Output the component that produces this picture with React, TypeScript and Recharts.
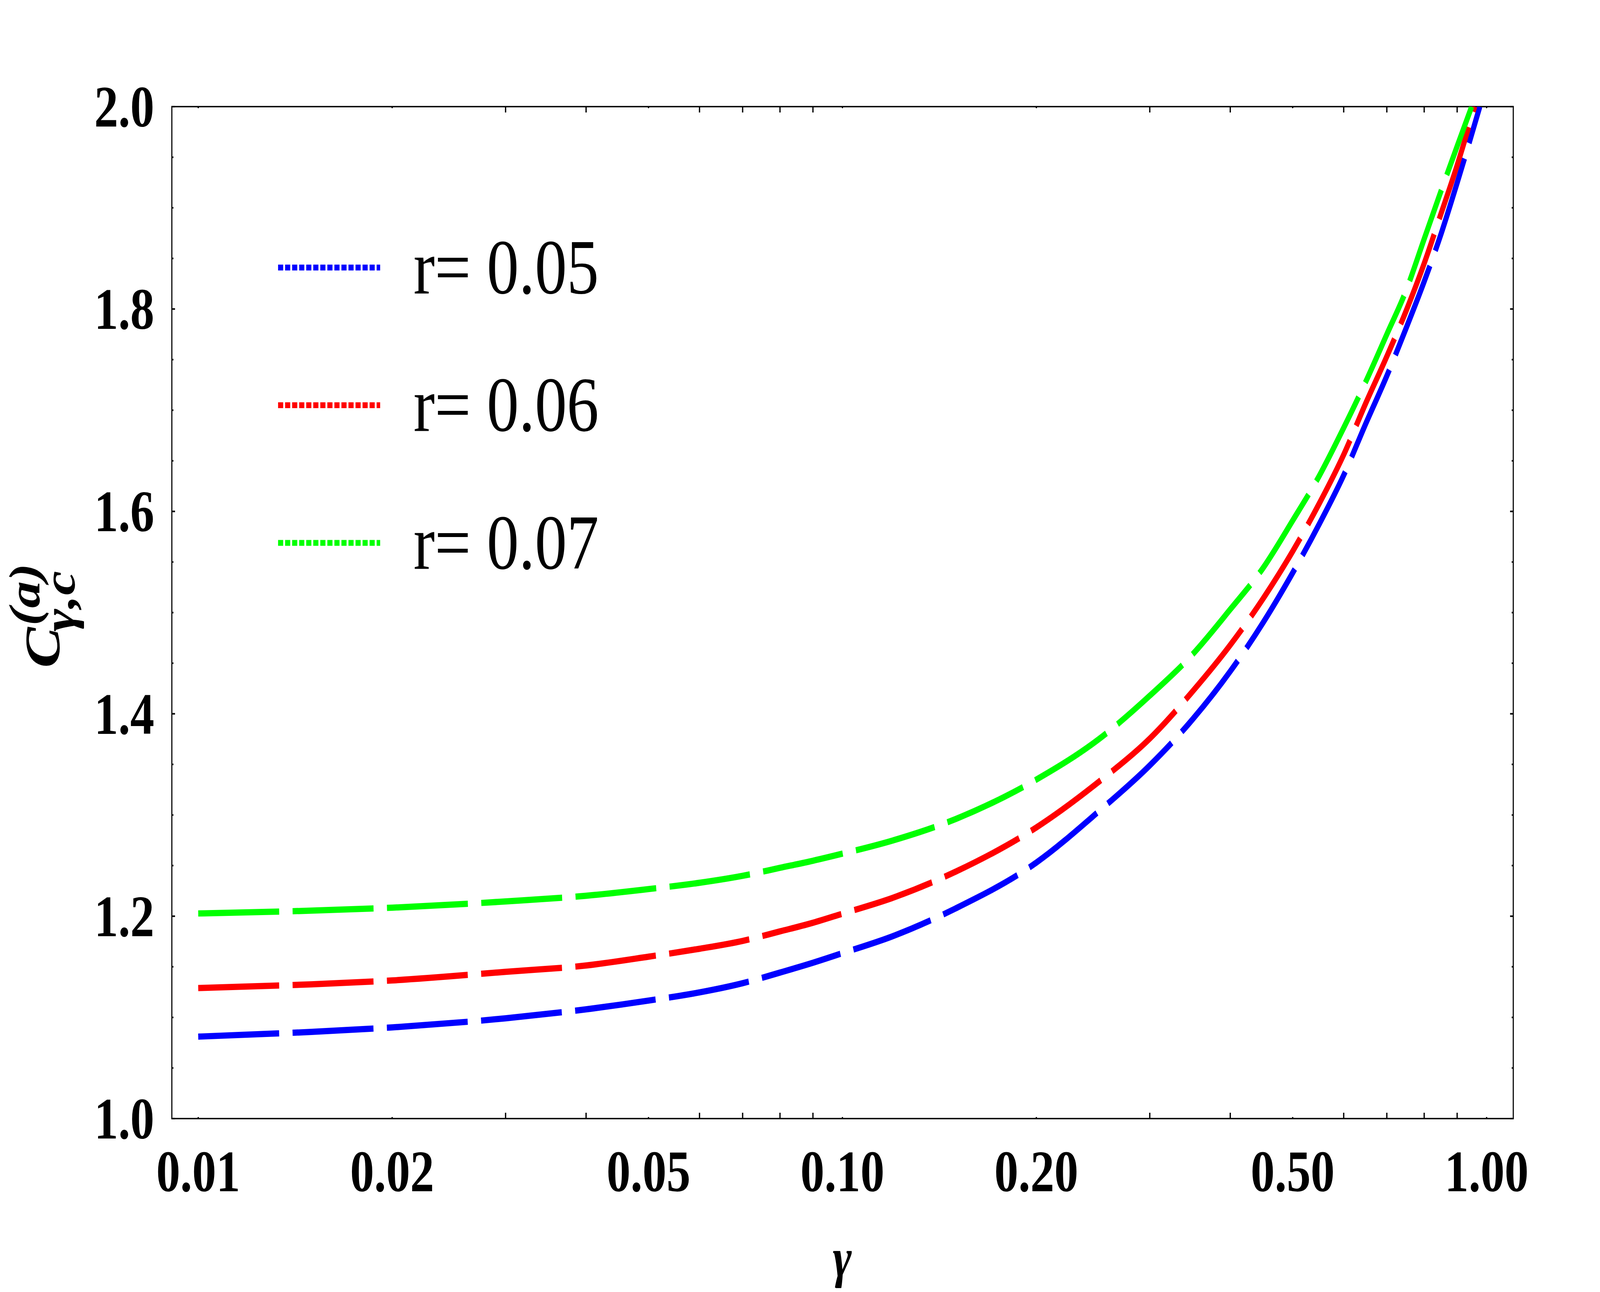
import React from "react";
import { LineChart, Line, XAxis, YAxis, ReferenceArea, Legend } from "recharts";

// values (gamma on a log axis)
const gammaGrid = [
  0.01, 0.015, 0.02, 0.03, 0.04, 0.05, 0.06, 0.07, 0.08, 0.09, 0.1, 0.12, 0.15,
  0.2, 0.25, 0.3, 0.35, 0.4, 0.45, 0.5, 0.55, 0.6, 0.65, 0.7, 0.75, 0.8, 0.85, 0.9,
];

const blueValues = [
  1.081, 1.0857, 1.0901, 1.0991, 1.108, 1.1166, 1.1247, 1.1338, 1.1443, 1.154,
  1.1635, 1.1805, 1.2078, 1.253, 1.3036, 1.349, 1.3949, 1.442, 1.4903, 1.5393,
  1.5877, 1.6358, 1.6875, 1.7339, 1.7811, 1.8272, 1.8745, 1.9247,
];
const redValues = [
  1.129, 1.1327, 1.1365, 1.145, 1.1513, 1.16, 1.1678, 1.1756, 1.185, 1.1935,
  1.2025, 1.2184, 1.2441, 1.2877, 1.3328, 1.3755, 1.4225, 1.468, 1.514, 1.5606,
  1.608, 1.6561, 1.7077, 1.7532, 1.7982, 1.8451, 1.8946, 1.942,
];
const greenValues = [
  1.2027, 1.2055, 1.2084, 1.2146, 1.2202, 1.2268, 1.233, 1.2399, 1.2478, 1.2548,
  1.2618, 1.275, 1.2961, 1.335, 1.3749, 1.4179, 1.4591, 1.5032, 1.5443, 1.591,
  1.6353, 1.6826, 1.7289, 1.775, 1.8184, 1.8692, 1.917, 1.9608,
];
// where each curve leaves the top of the frame (C = 2.0)
const topGamma = [0.976, 0.958, 0.948];

const seriesNames = ["r= 0.05", "r= 0.06", "r= 0.07"];
const seriesColors = ["#0000ff", "#ff0000", "#00ff00"];

const xTicks = [
  0.01, 0.02, 0.03, 0.04, 0.05, 0.06, 0.07, 0.08, 0.09,
  0.1, 0.2, 0.3, 0.4, 0.5, 0.6, 0.7, 0.8, 0.9, 1,
];
const xLabeled = [0.01, 0.02, 0.05, 0.1, 0.2, 0.5, 1];
const yTicks = [
  1, 1.05, 1.1, 1.15, 1.2, 1.25, 1.3, 1.35, 1.4, 1.45, 1.5,
  1.55, 1.6, 1.65, 1.7, 1.75, 1.8, 1.85, 1.9, 1.95, 2,
];
const yLabeled = [1, 1.2, 1.4, 1.6, 1.8, 2];

const W = 5000;
const H = 3308;
const PLOT_LEFT = 537;
const PLOT_RIGHT = 4729;
const PLOT_TOP = 273;
const PLOT_BOTTOM = 2864;
const SERIF = "'Liberation Serif', 'Times New Roman', serif";

const build = (values: number[], top: number) =>
  gammaGrid.map((g, i) => ({ g, v: values[i] })).concat([{ g: top, v: 2 }]);

const seriesData = [
  build(blueValues, topGamma[0]),
  build(redValues, topGamma[1]),
  build(greenValues, topGamma[2]),
];

const XTick = (props: any) => {
  const { x, payload } = props;
  const v = payload.value;
  const labeled = xLabeled.includes(v);
  const len = labeled ? 4 : 15;
  return (
    <g>
      <line x1={x} x2={x} y1={PLOT_BOTTOM} y2={PLOT_BOTTOM - len} stroke="#000" strokeWidth={4} />
      <line x1={x} x2={x} y1={PLOT_TOP} y2={PLOT_TOP + len} stroke="#000" strokeWidth={4} />
      {labeled && (
        <text
          x={x}
          y={PLOT_BOTTOM + 186}
          textAnchor="middle"
          fontFamily={SERIF}
          fontWeight="bold"
          fontSize={150}
          fill="#000"
        >
          {v.toFixed(2)}
        </text>
      )}
    </g>
  );
};

const YTick = (props: any) => {
  const { y, payload } = props;
  const v = payload.value;
  const labeled = yLabeled.includes(v);
  const len = labeled ? 10 : 5;
  return (
    <g>
      <line x1={PLOT_LEFT} x2={PLOT_LEFT + len} y1={y} y2={y} stroke="#000" strokeWidth={4} />
      <line x1={PLOT_RIGHT} x2={PLOT_RIGHT - len} y1={y} y2={y} stroke="#000" strokeWidth={4} />
      {labeled && (
        <text
          x={PLOT_LEFT - 55}
          y={y + 51}
          textAnchor="end"
          fontFamily={SERIF}
          fontWeight="bold"
          fontSize={150}
          fill="#000"
        >
          {v.toFixed(1)}
        </text>
      )}
    </g>
  );
};

const YLabel = () => (
  <g
    transform="translate(185,1710) rotate(-90)"
    fontFamily={SERIF}
    fontWeight="bold"
    fontStyle="italic"
    fill="#000"
  >
    <text x={0} y={0} fontSize={156}>C</text>
    <text x={108} y={-62} fontSize={137}>(a)</text>
    <text x={93} y={48} fontSize={140}>γ,c</text>
  </g>
);

const XLabel = () => (
  <text
    x={2632}
    y={3268}
    textAnchor="middle"
    fontFamily={SERIF}
    fontWeight="bold"
    fontStyle="italic"
    fontSize={142}
    fill="#000"
  >
    γ
  </text>
);

const LegendBox = () => (
  <svg width={1200} height={1000} style={{ display: "block" }}>
    {seriesNames.map((name, i) => (
      <g key={name}>
        <line
          x1={69}
          x2={388}
          y1={185 + i * 352.5}
          y2={185 + i * 352.5}
          stroke={seriesColors[i]}
          strokeWidth={15}
          strokeDasharray="16 6"
        />
        <text x={492} y={251 + i * 352.5} fontSize={200} fontFamily={SERIF} fill="#000">
          {name}
        </text>
      </g>
    ))}
  </svg>
);

export default function App() {
  // the browser caps the window at 4096px wide, so fit the 5000x3308 chart into what is there
  const vw = typeof window !== "undefined" ? window.innerWidth : W;
  const vh = typeof window !== "undefined" ? window.innerHeight : H;
  const sx = Math.min(1, vw / W);
  const sy = Math.min(1, vh / H);
  return (
    <div style={{ width: W * sx, height: H * sy, overflow: "hidden", background: "#fff" }}>
      <style>{"html,body{margin:0;padding:0;overflow:hidden;background:#fff}"}</style>
      <div style={{ width: W, height: H, transform: `scale(${sx}, ${sy})`, transformOrigin: "0 0" }}>
        <LineChart width={W} height={H} margin={{ top: PLOT_TOP, right: W - PLOT_RIGHT, bottom: 144, left: 237 }}>
          <XAxis
            dataKey="g"
            type="number"
            scale="log"
            domain={[0.0091, 1.1]}
            allowDataOverflow
            ticks={xTicks}
            interval={0}
            tick={XTick}
            tickLine={false}
            axisLine={false}
            tickSize={0}
            tickMargin={0}
            height={300}
            label={<XLabel />}
          />
          <YAxis
            type="number"
            domain={[1, 2]}
            allowDataOverflow
            ticks={yTicks}
            interval={0}
            tick={YTick}
            tickLine={false}
            axisLine={false}
            tickSize={0}
            tickMargin={0}
            width={300}
            label={<YLabel />}
          />
          <ReferenceArea
            x1={0.0091}
            x2={1.1}
            y1={1}
            y2={2}
            fill="none"
            stroke="#000"
            strokeWidth={3.5}
            ifOverflow="visible"
          />
          {seriesData.map((d, i) => (
            <Line
              key={seriesNames[i]}
              data={d}
              dataKey="v"
              name={seriesNames[i]}
              type="monotone"
              stroke={seriesColors[i]}
              strokeWidth={16}
              strokeDasharray="253 42"
              dot={false}
              activeDot={false}
              isAnimationActive={false}
            />
          ))}
          <Legend
            layout="vertical"
            align="center"
            verticalAlign="middle"
            content={<LegendBox />}
            wrapperStyle={{ position: "absolute", left: 800, top: 500, width: 1200, height: 1000, margin: 0, padding: 0 }}
          />
        </LineChart>
      </div>
    </div>
  );
}
